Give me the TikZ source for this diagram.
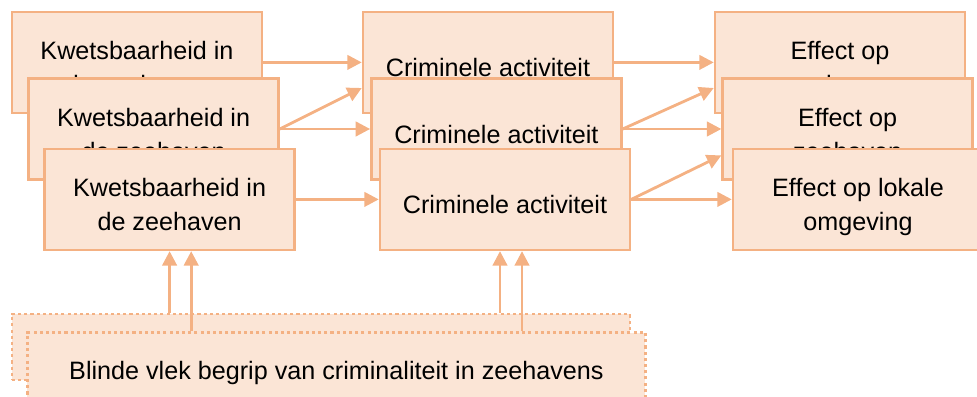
\documentclass[tikz,border=0pt]{standalone}
\usepackage{fontspec}
\setmainfont{Liberation Sans}
\usepackage{xcolor}
\usepackage{tikz}
\usetikzlibrary{arrows.meta,calc,positioning}
\definecolor{perzik}{HTML}{F4B183}
\definecolor{perzikvul}{HTML}{FBE5D6}
\newcommand{\bs}{\rule{0pt}{24.3pt}}
\newcommand{\onderstrut}{\rule[-4pt]{0pt}{4pt}}

\begin{document}
\begin{tikzpicture}[>={Triangle[length=0.36cm,width=0.36cm]},
  blok/.style={draw=perzik,fill=perzikvul,line width=1.8pt,minimum width=6.25cm,minimum height=2.525cm,inner sep=0pt,align=center,
    font=\fontsize{17.9}{24.3}\selectfont,execute at end node=\onderstrut},
  vlek/.style={blok,line width=2.1pt,dash pattern=on 2.2pt off 2.2pt,minimum width=15.45cm,minimum height=1.65cm},
  pijl/.style={->,draw=perzik,line width=2pt}]
\path[use as bounding box,clip] (0,0) rectangle (24.425,9.9);
\node[blok] (L1) at (3.425,8.34) {\bs Kwetsbaarheid in\\de zeehaven};
\node[blok] (L2) at (3.84,6.675) {\bs Kwetsbaarheid in\\de zeehaven};
\node[blok] (L3) at (4.24,4.915) {\bs Kwetsbaarheid in\\de zeehaven};
\node[blok] (M1) at (12.2,8.34) {\bs Criminele activiteit};
\node[blok] (M2) at (12.41,6.675) {\bs Criminele activiteit};
\node[blok] (M3) at (12.625,4.915) {\bs Criminele activiteit};
\node[blok] (R1) at (21.0,8.34) {\bs Effect op\\zeehaven};
\node[blok] (R2) at (21.19,6.675) {\bs Effect op\\zeehaven};
\node[blok] (R3) at (21.45,4.915) {\bs Effect op lokale\\omgeving};
\node[vlek] (B1) at (8.025,1.225) {};
\node[vlek] (B2) at (8.41,0.76) {\bs Blinde vlek begrip van criminaliteit in zeehavens};
\draw[pijl] (L1.east)--(M1.west);
\draw[pijl] (L2.east)--([yshift=-0.64cm]M1.west);
\draw[pijl] (L2.east)--(M2.west);
\draw[pijl] (L3.east)--(M3.west);
\draw[pijl] (M1.east)--(R1.west);
\draw[pijl] (M2.east)--([yshift=-0.64cm]R1.west);
\draw[pijl] (M2.east)--(R2.west);
\draw[pijl] (M3.east)--([yshift=-0.66cm]R2.west);
\draw[pijl] (M3.east)--(R3.west);
\coordinate (l3b) at ([xshift=0.54cm]L3.south); \coordinate (m3a) at ([xshift=-0.125cm]M3.south);
\coordinate (m3b) at ([xshift=0.425cm]M3.south);
\draw[pijl] (L3.south |- B1.north)--(L3.south);
\draw[pijl] (l3b |- B2.north)--(l3b);
\draw[pijl] (m3a |- B1.north)--(m3a);
\draw[pijl] (m3b |- B2.north)--(m3b);
\end{tikzpicture}
\end{document}
